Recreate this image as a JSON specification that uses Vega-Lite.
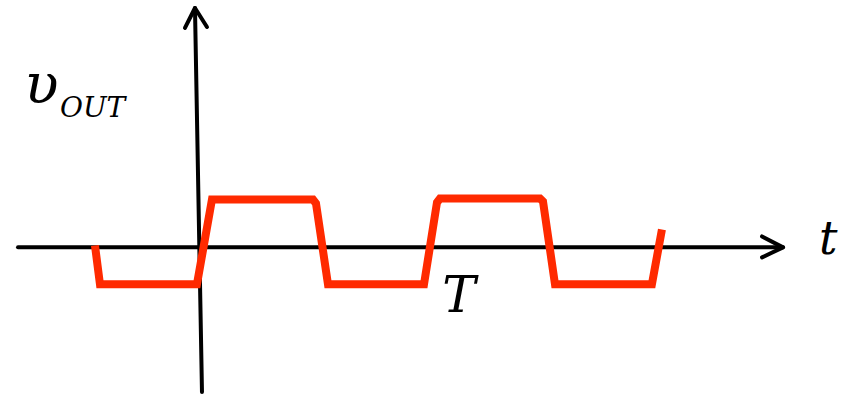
{
  "$schema": "https://vega.github.io/schema/vega-lite/v6.json",
  "width": 848,
  "height": 394,
  "autosize": {"type": "fit", "contains": "padding"},
  "padding": 0,
  "background": "white",
  "config": {"view": {"stroke": null}},
  "datasets": {
    "axes": [
      {"g": "h", "i": 0, "t": -0.798, "v": 0},
      {"g": "h", "i": 1, "t": 2.557, "v": 0},
      {"g": "ha", "i": 0, "t": 2.465, "v": 0.229},
      {"g": "ha", "i": 1, "t": 2.557, "v": 0},
      {"g": "ha", "i": 2, "t": 2.465, "v": -0.208},
      {"g": "vv", "i": 0, "t": 0.0088, "v": -3.02},
      {"g": "vv", "i": 1, "t": -0.0219, "v": 5.0},
      {"g": "va", "i": 0, "t": -0.0658, "v": 4.583},
      {"g": "va", "i": 1, "t": -0.0219, "v": 5.0},
      {"g": "va", "i": 2, "t": 0.0307, "v": 4.604}
    ],
    "wave": [
      {"i": 0, "t": -0.4605, "v": 0.04},
      {"i": 1, "t": -0.4386, "v": -0.771},
      {"i": 2, "t": -0.0132, "v": -0.771},
      {"i": 3, "t": 0.0526, "v": 1.0},
      {"i": 4, "t": 0.4956, "v": 1.0},
      {"i": 5, "t": 0.5088, "v": 0.917},
      {"i": 6, "t": 0.5614, "v": -0.771},
      {"i": 7, "t": 0.9825, "v": -0.771},
      {"i": 8, "t": 1.0395, "v": 0.9375},
      {"i": 9, "t": 1.0526, "v": 1.02},
      {"i": 10, "t": 1.4912, "v": 1.02},
      {"i": 11, "t": 1.5044, "v": 0.958},
      {"i": 12, "t": 1.557, "v": -0.771},
      {"i": 13, "t": 1.982, "v": -0.771},
      {"i": 14, "t": 2.026, "v": 0.375}
    ],
    "labels": [
      {"txt": "υ", "t": -0.77, "v": 3.02, "size": 56, "align": "left"},
      {"txt": "OUT", "t": -0.614, "v": 2.729, "size": 28, "align": "left"},
      {"txt": "t", "t": 2.715, "v": -0.146, "size": 46, "align": "left"},
      {"txt": "T", "t": 1.136, "v": -1.354, "size": 50, "align": "center"}
    ]
  },
  "encoding": {
    "x": {"field": "t", "type": "quantitative", "axis": null,
          "scale": {"domain": [-0.877, 2.842], "nice": false, "zero": false}},
    "y": {"field": "v", "type": "quantitative", "axis": null,
          "scale": {"domain": [-3.042, 5.167], "nice": false, "zero": false}}
  },
  "layer": [
    {
      "data": {"name": "axes"},
      "mark": {"type": "line", "color": "black", "strokeWidth": 4, "strokeCap": "round", "strokeJoin": "round"},
      "encoding": {
        "detail": {"field": "g"},
        "order": {"field": "i", "type": "quantitative"}
      }
    },
    {
      "data": {"name": "wave"},
      "mark": {"type": "line", "color": "#ff2a00", "strokeWidth": 8, "strokeCap": "butt", "strokeJoin": "miter"},
      "encoding": {
        "order": {"field": "i", "type": "quantitative"}
      }
    },
    {
      "data": {"name": "labels"},
      "transform": [{"filter": "datum.align == 'left'"}],
      "mark": {"type": "text", "font": "DejaVu Serif", "fontStyle": "italic", "align": "left", "baseline": "alphabetic", "color": "black"},
      "encoding": {
        "text": {"field": "txt"},
        "size": {"field": "size", "type": "quantitative", "scale": null}
      }
    },
    {
      "data": {"name": "labels"},
      "transform": [{"filter": "datum.align == 'center'"}],
      "mark": {"type": "text", "font": "DejaVu Serif", "fontStyle": "italic", "align": "center", "baseline": "alphabetic", "color": "black"},
      "encoding": {
        "text": {"field": "txt"},
        "size": {"field": "size", "type": "quantitative", "scale": null}
      }
    }
  ]
}
